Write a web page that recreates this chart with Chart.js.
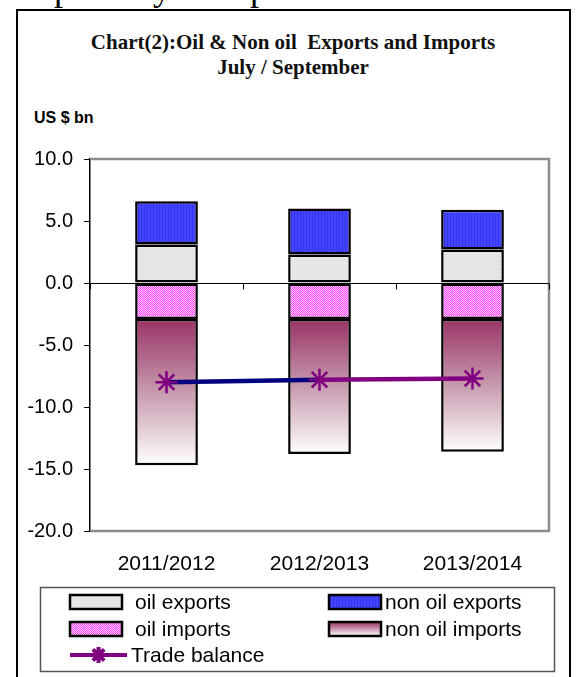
<!DOCTYPE html>
<html>
<head>
<meta charset="utf-8">
<script src="https://cdn.jsdelivr.net/npm/chart.js@4/dist/chart.umd.min.js"></script>
<style>
  body { margin: 0; background: #fff; width: 576px; height: 677px; overflow: hidden; position: relative; }
  #above { position: absolute; left: 14px; top: -33px; font: 36px "Liberation Serif", serif; color: #000; white-space: nowrap; }
  #frame { position: absolute; left: 16px; top: 9px; width: 551px; height: 700px; border: 2px solid #000; }
  .title { position: absolute; left: 17px; width: 552px; text-align: center; font: bold 21px "Liberation Serif", serif; color: #111; line-height: 24px; }
  #unit { position: absolute; left: 34px; top: 109px; font: bold 16px "Liberation Sans", Arial, sans-serif; color: #000; }
  canvas { position: absolute; left: 0; top: 0; }
</style>
</head>
<body>
<div id="above">Exports by Component</div>
<div id="frame"></div>
<div class="title" style="top:30px">Chart(2):Oil &amp; Non oil&nbsp; Exports and Imports</div>
<div class="title" style="top:55px">July / September</div>
<div id="unit">US $ bn</div>
<canvas id="chart2" width="576" height="677"></canvas>
<script>
// July / September totals, US $ bn
const years = ['2011/2012', '2012/2013', '2013/2014'];
const oilExports = [3.1, 2.3, 2.7];
const nonOilExports = [3.5, 3.7, 3.2];
const oilImports = [-2.9, -2.9, -2.9];
const nonOilImports = [-11.8, -10.9, -10.7];
const tradeBalance = [-8.0, -7.8, -7.7];
const yMin = -20, yMax = 10, yStep = 5;

const FONT = '"Liberation Sans", Arial, sans-serif';

function makePattern(w, h, paint) {
    let c = document.createElement('canvas');
    c.width = w; c.height = h;
    let g = c.getContext('2d');
    paint(g);
    return g.createPattern(c, 'repeat');
}

// light grey, finely dotted
const greyFill = makePattern(4, 4, g => {
    g.fillStyle = '#e8e8e8'; g.fillRect(0, 0, 4, 4);
    g.fillStyle = '#d4d4d4'; g.fillRect(0, 0, 1, 1); g.fillRect(2, 2, 1, 1);
});
// blue with thin vertical stripes
const blueFill = makePattern(3, 3, g => {
    g.fillStyle = '#4444ff'; g.fillRect(0, 0, 3, 3);
    g.fillStyle = '#3434ee'; g.fillRect(0, 0, 1, 3);
});
// magenta / white checker
const pinkFill = makePattern(2, 2, g => {
    g.fillStyle = '#ff44ff'; g.fillRect(0, 0, 2, 2);
    g.fillStyle = '#ffccff'; g.fillRect(1, 0, 1, 1); g.fillRect(0, 1, 1, 1);
});

// maroon-to-white gradient, one per bar
function importsGradient(ctx) {
    let chart = ctx.chart;
    let y = chart.scales && chart.scales.y;
    if (!chart.chartArea || !y || ctx.dataIndex === undefined) return '#c89aae';
    let i = ctx.dataIndex;
    let top = y.getPixelForValue(oilImports[i]);
    let bottom = y.getPixelForValue(oilImports[i] + nonOilImports[i]);
    let gr = chart.ctx.createLinearGradient(0, top, 0, bottom);
    gr.addColorStop(0, '#993366');
    gr.addColorStop(0.5, '#c79aae');
    gr.addColorStop(1, '#ffffff');
    return gr;
}

const barBase = {
    type: 'bar',
    borderColor: '#000',
    borderWidth: 2.5,
    borderSkipped: false,
    barPercentage: 0.41,
    categoryPercentage: 1,
    order: 1
};

// frame of the plot, zero line and its category ticks
const plotLines = {
    id: 'plotLines',
    beforeDatasetsDraw(chart) {
        let { ctx, chartArea: a, scales: { x, y } } = chart;
        ctx.save();
        ctx.strokeStyle = '#8c8c8c';
        ctx.lineWidth = 2.5;
        ctx.beginPath();
        ctx.moveTo(a.left, a.top);
        ctx.lineTo(a.right, a.top);
        ctx.lineTo(a.right, a.bottom);
        ctx.lineTo(a.left, a.bottom);
        ctx.stroke();
        let y0 = Math.round(y.getPixelForValue(0)) + 0.5;
        ctx.strokeStyle = '#000';
        ctx.lineWidth = 1;
        ctx.beginPath();
        ctx.moveTo(a.left, y0);
        ctx.lineTo(a.right, y0);
        let half = (x.getPixelForValue(1) - x.getPixelForValue(0)) / 2;
        for (let i = 0; i <= years.length; i++) {
            let px = Math.round(x.getPixelForValue(i) - half) + 0.5;
            ctx.moveTo(px, y0);
            ctx.lineTo(px, y0 + 6);
        }
        ctx.stroke();
        ctx.restore();
    }
};

// two-column legend box under the axis
const boxLegend = {
    id: 'boxLegend',
    afterDraw(chart) {
        let ctx = chart.ctx;
        let ds = chart.data.datasets;
        let items = [
            { i: 0, x: 70, y: 602, gap: 13 },
            { i: 1, x: 329, y: 602, gap: 4 },
            { i: 2, x: 70, y: 629, gap: 13 },
            { i: 3, x: 329, y: 629, gap: 4 },
            { i: 4, x: 70, y: 655, gap: 4 }
        ];
        ctx.save();
        ctx.strokeStyle = '#555';
        ctx.lineWidth = 1.5;
        ctx.strokeRect(40.5, 587.5, 514, 84);
        ctx.font = '21px ' + FONT;
        ctx.textBaseline = 'middle';
        ctx.fillStyle = '#000';
        items.forEach(it => {
            let d = ds[it.i];
            let w = 52;
            if (d.type === 'line') {
                w = 57;
                ctx.strokeStyle = '#800080';
                ctx.lineWidth = 4;
                ctx.beginPath();
                ctx.moveTo(it.x, it.y);
                ctx.lineTo(it.x + w, it.y);
                ctx.stroke();
                Chart.helpers.drawPoint(ctx, { pointStyle: 'star', radius: 8, borderWidth: 2 }, it.x + w / 2, it.y);
            } else {
                let fill = d.backgroundColor;
                if (typeof fill === 'function') {
                    fill = ctx.createLinearGradient(0, it.y - 7, 0, it.y + 7);
                    fill.addColorStop(0, '#993366');
                    fill.addColorStop(1, '#ffffff');
                }
                ctx.fillStyle = fill;
                ctx.fillRect(it.x, it.y - 7, w, 14);
                ctx.strokeStyle = '#000';
                ctx.lineWidth = 2.5;
                ctx.strokeRect(it.x, it.y - 7, w, 14);
            }
            ctx.fillStyle = '#000';
            ctx.fillText(d.label, it.x + w + it.gap, it.y + 1);
        });
        ctx.restore();
    }
};

new Chart(document.getElementById('chart2'), {
    data: {
        labels: years,
        datasets: [
            Object.assign({}, barBase, { label: 'oil exports', data: oilExports, backgroundColor: greyFill }),
            Object.assign({}, barBase, { label: 'non oil exports', data: nonOilExports, backgroundColor: blueFill }),
            Object.assign({}, barBase, { label: 'oil imports', data: oilImports, backgroundColor: pinkFill }),
            Object.assign({}, barBase, { label: 'non oil imports', data: nonOilImports, backgroundColor: importsGradient }),
            {
                type: 'line',
                label: 'Trade balance',
                data: tradeBalance,
                stack: 'balance',
                order: 0,
                borderWidth: 4.5,
                borderColor: '#800080',
                segment: { borderColor: c => c.p0DataIndex === 0 ? '#000080' : '#800080' },
                pointStyle: 'star',
                pointRadius: 11,
                pointBorderWidth: 2.5,
                pointBorderColor: '#800080',
                pointBackgroundColor: '#800080',
                tension: 0
            }
        ]
    },
    options: {
        responsive: false,
        animation: false,
        events: [],
        layout: { padding: { left: 0, right: 27, top: 159, bottom: 96 } },
        plugins: { legend: { display: false }, tooltip: { enabled: false } },
        scales: {
            x: {
                stacked: true,
                grid: { display: false, drawTicks: false },
                border: { display: false },
                ticks: { color: '#000', font: { family: FONT, size: 21 }, padding: 21 },
                afterFit: s => { s.height = 50; }
            },
            y: {
                stacked: true,
                min: yMin,
                max: yMax,
                grid: { drawOnChartArea: false, tickLength: 6, tickColor: '#000', tickWidth: 1 },
                border: { color: '#000', width: 1.5 },
                ticks: {
                    stepSize: yStep,
                    color: '#000',
                    padding: 11,
                    font: { family: FONT, size: 20 },
                    callback: v => v.toFixed(1)
                },
                afterFit: s => { s.width = 90; }
            }
        }
    },
    plugins: [plotLines, boxLegend]
});
</script>
</body>
</html>
